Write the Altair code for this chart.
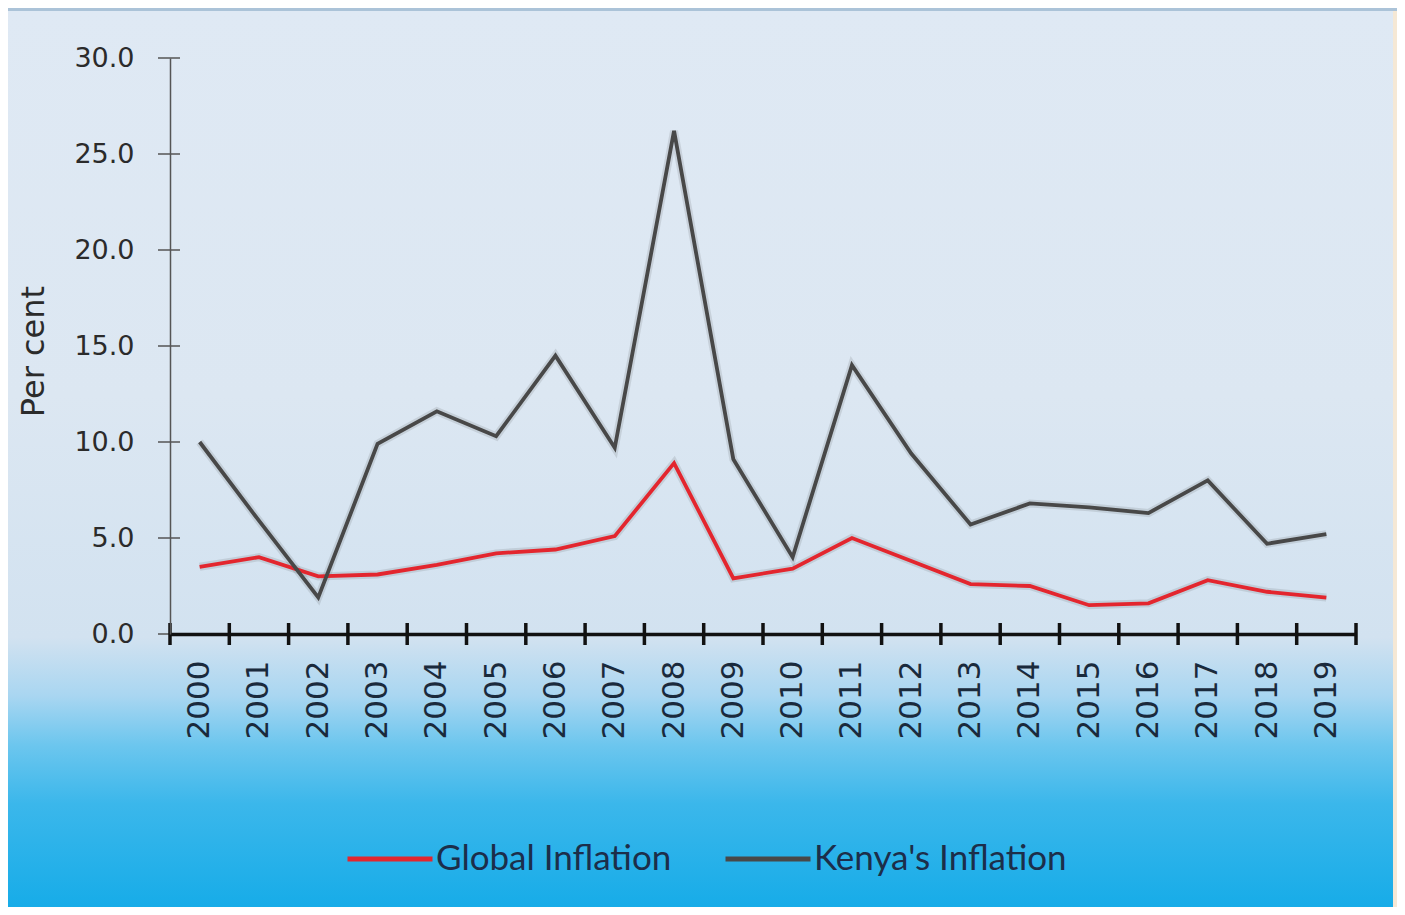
import altair as alt
import pandas as pd

# ---- data ----
years = list(range(2000, 2020))
global_inflation = [3.5, 4.0, 3.0, 3.1, 3.6, 4.2, 4.4, 5.1, 8.9, 2.9,
                    3.4, 5.0, 3.8, 2.6, 2.5, 1.5, 1.6, 2.8, 2.2, 1.9]
kenya_inflation = [10.0, 5.9, 1.9, 9.9, 11.6, 10.3, 14.5, 9.7, 26.2, 9.1,
                   4.0, 14.0, 9.4, 5.7, 6.8, 6.6, 6.3, 8.0, 4.7, 5.2]
series_names = ["Global Inflation", "Kenya's Inflation"]
series_colors = ["#E3262E", "#484848"]
y_tick_values = [0, 5, 10, 15, 20, 25, 30]
x_tick_boundaries = [1999.5, 2000.5, 2001.5, 2002.5, 2003.5, 2004.5, 2005.5,
                     2006.5, 2007.5, 2008.5, 2009.5, 2010.5, 2011.5, 2012.5,
                     2013.5, 2014.5, 2015.5, 2016.5, 2017.5, 2018.5, 2019.5]

rows = []
for name, vals in zip(series_names, [global_inflation, kenya_inflation]):
    for yr, v in zip(years, vals):
        rows.append({"year": yr, "value": v, "series": name})
df = pd.DataFrame(rows)

W, H = 1186, 576
PAD = {"left": 162, "top": 50, "right": 41, "bottom": 273}

x_scale = alt.Scale(domain=[1999.5, 2019.5], nice=False, zero=False)
y_scale = alt.Scale(domain=[0, 30], nice=False)

x_axis = alt.Axis(values=years, format="d", labelAngle=270, ticks=False,
                  domainColor="#111111", domainWidth=3.5, labelPadding=26,
                  labelFont="DejaVu Sans", labelFontSize=31,
                  labelColor="#1A2A3C", grid=False, title="", zindex=2)
y_axis = alt.Axis(values=y_tick_values, format=".1f", ticks=False,
                  domainColor="#555555", domainWidth=1.5, labelPadding=36,
                  labelFont="DejaVu Sans", labelFontSize=27,
                  labelColor="#2B2B2B", grid=False,
                  title="Per cent", titleFont="DejaVu Sans",
                  titleFontSize=32, titleFontWeight="normal",
                  titleColor="#2B2B2B", titleX=-137, titleY=293,
                  titleAngle=270, titleAlign="center",
                  titleBaseline="middle", zindex=2)

one = alt.Data(values=[{"k": 1}])

bg = alt.Chart(one).mark_rect(
    fill=alt.LinearGradient(
        gradient="linear", x1=0, x2=0, y1=0, y2=1,
        stops=[
            alt.GradientStop(offset=0.0, color="#DFE9F4"),
            alt.GradientStop(offset=0.43, color="#DCE7F2"),
            alt.GradientStop(offset=0.70, color="#D2E2F0"),
            alt.GradientStop(offset=0.765, color="#A9D6F1"),
            alt.GradientStop(offset=0.82, color="#6CC6EE"),
            alt.GradientStop(offset=0.885, color="#3BB7EB"),
            alt.GradientStop(offset=1.0, color="#17ACE8"),
        ]),
    clip=False,
).encode(
    x=alt.value(-PAD["left"]), x2=alt.value(W + PAD["right"]),
    y=alt.value(-PAD["top"]), y2=alt.value(H + PAD["bottom"]),
)

top_band = alt.Chart(one).mark_rect(fill="#ABC3D8", clip=False).encode(
    x=alt.value(-PAD["left"]), x2=alt.value(W + PAD["right"]),
    y=alt.value(-PAD["top"]), y2=alt.value(-PAD["top"] + 3),
)

right_strip = alt.Chart(one).mark_rect(fill="#F5E8D5", clip=False).encode(
    x=alt.value(W + PAD["right"] - 4), x2=alt.value(W + PAD["right"]),
    y=alt.value(-PAD["top"] + 3), y2=alt.value(H + PAD["bottom"]),
)

shadow = alt.Chart(df).mark_line(strokeWidth=8, color="#333333", opacity=0.12).encode(
    x=alt.X("year:Q", scale=x_scale, axis=x_axis),
    y=alt.Y("value:Q", scale=y_scale, axis=y_axis),
    detail="series:N",
)

lines = alt.Chart(df).mark_line(strokeWidth=3.8).encode(
    x=alt.X("year:Q", scale=x_scale, axis=x_axis),
    y=alt.Y("value:Q", scale=y_scale, axis=y_axis),
    color=alt.Color("series:N",
                    scale=alt.Scale(domain=series_names, range=series_colors),
                    legend=alt.Legend(title=None, orient="none", legendX=175,
                                      legendY=756, direction="horizontal",
                                      symbolType="stroke", symbolSize=7225,
                                      symbolStrokeWidth=5, labelFont="Lato",
                                      labelFontSize=35, labelColor="#1C2E4A",
                                      labelOffset=1, columnPadding=43,
                                      labelLimit=500, zindex=2)),
)

ytick_df = pd.DataFrame({"value": y_tick_values})
ytick_rules = alt.Chart(ytick_df).mark_rule(color="#555555", strokeWidth=1.5).encode(
    y=alt.Y("value:Q", scale=y_scale, axis=y_axis),
    x=alt.value(-12), x2=alt.value(10),
)

xtick_df = pd.DataFrame({"year": x_tick_boundaries})
xtick_rules = alt.Chart(xtick_df).mark_rule(color="#111111", strokeWidth=3.5).encode(
    x=alt.X("year:Q", scale=x_scale, axis=x_axis),
    y=alt.value(H - 11), y2=alt.value(H + 11),
)

chart = alt.layer(bg, top_band, right_strip, shadow, lines, ytick_rules, xtick_rules).properties(
    width=W, height=H,
    autosize=alt.AutoSizeParams(type="none"),
    padding=PAD,
    background="#FFFFFF",
).configure_view(stroke="transparent")

chart.save("out.html", embed_options={"renderer": "svg", "actions": False})
